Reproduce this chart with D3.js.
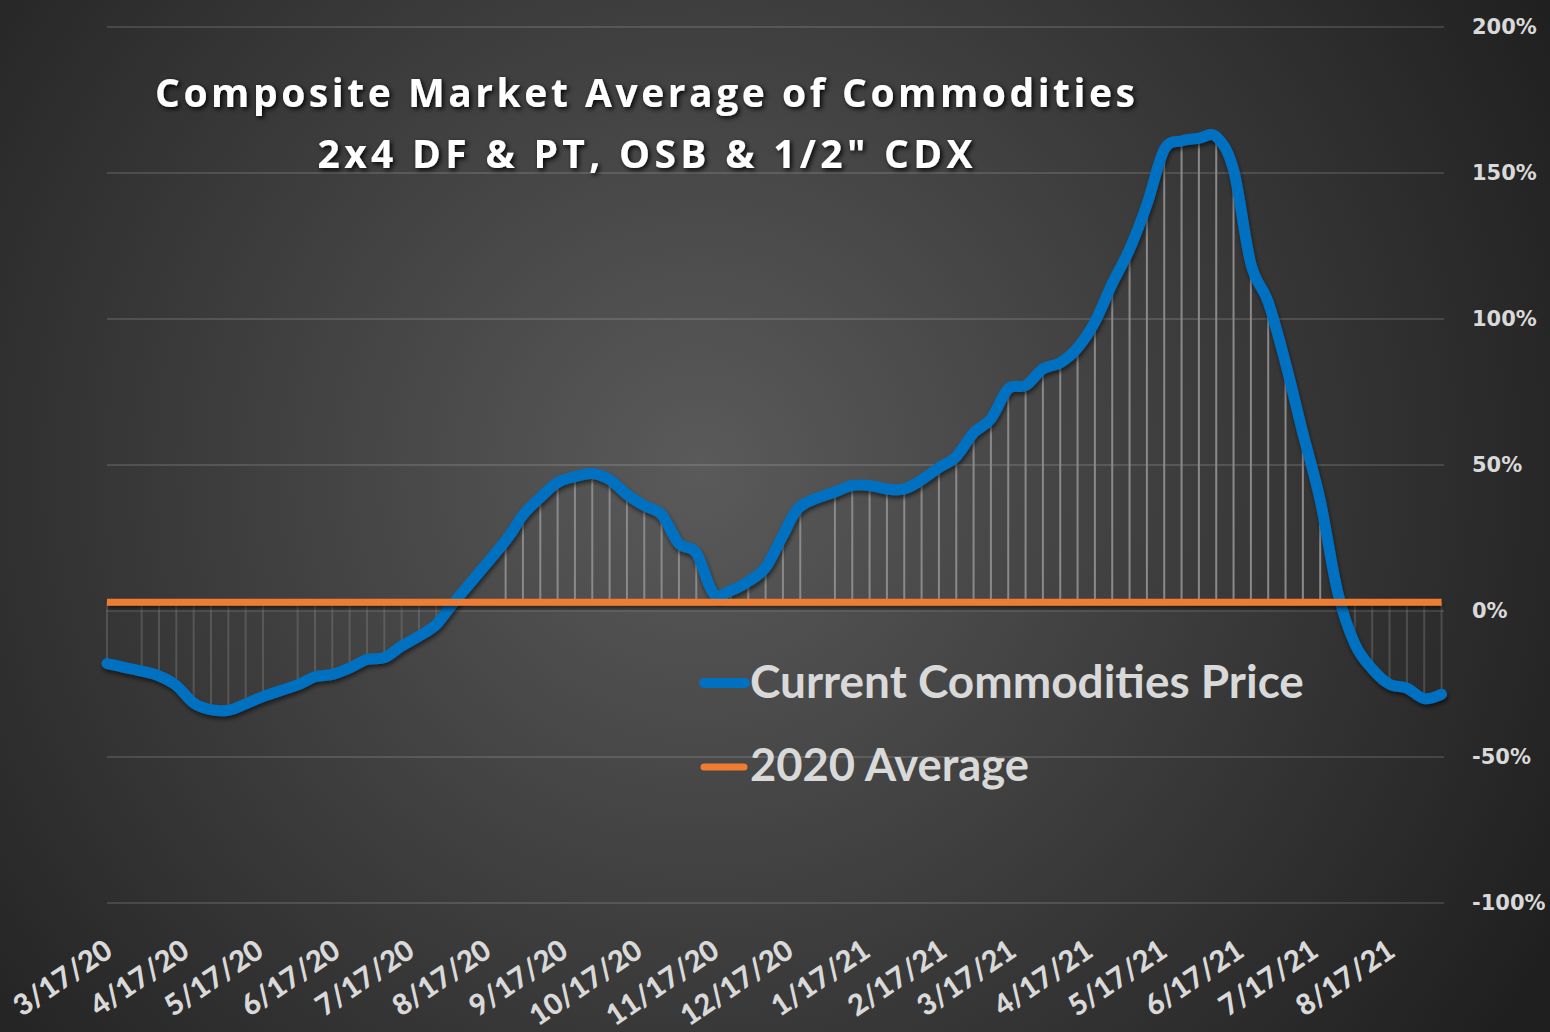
<!DOCTYPE html>
<html>
<head>
<meta charset="utf-8">
<script src="https://cdn.jsdelivr.net/npm/d3@7"></script>
<style>
  html, body { margin: 0; padding: 0; background: #2a2a2a; }
  svg { display: block; }
</style>
</head>
<body>
<svg id="chart" width="1550" height="1032"></svg>
<script>
// ---------------- DATA ----------------
const titleLines = ["Composite Market Average of Commodities", "2x4 DF & PT, OSB & 1/2\" CDX"];
const seriesNames = ["Current Commodities Price", "2020 Average"];

const pointDates = [
  "2020-03-17","2020-03-31","2020-04-07","2020-04-14","2020-04-21","2020-04-28",
  "2020-05-05","2020-05-12","2020-05-19","2020-06-02","2020-06-09","2020-06-16",
  "2020-06-23","2020-06-30","2020-07-07","2020-07-14","2020-07-21","2020-07-28",
  "2020-08-04","2020-08-25","2020-09-01","2020-09-08","2020-09-15","2020-09-22",
  "2020-09-29","2020-10-06","2020-10-13","2020-10-20","2020-10-27","2020-11-03",
  "2020-11-10","2020-11-17","2020-11-24","2020-12-01","2020-12-08","2020-12-15",
  "2020-12-22","2021-01-05","2021-01-12","2021-01-19","2021-01-26","2021-02-02",
  "2021-02-09","2021-02-16","2021-02-23","2021-03-02","2021-03-09","2021-03-16",
  "2021-03-23","2021-03-30","2021-04-06","2021-04-13","2021-04-20","2021-04-27",
  "2021-05-04","2021-05-11","2021-05-18","2021-05-25","2021-06-01","2021-06-08",
  "2021-06-15","2021-06-22","2021-06-29","2021-07-06","2021-07-13","2021-07-20",
  "2021-07-27","2021-08-03","2021-08-10","2021-08-17","2021-08-24","2021-08-31",
  "2021-09-07"
];

// Current Commodities Price, % vs 2020 average baseline
const priceValues = [
  -18.0, -20.6, -22.2, -25.5, -31.5, -33.8,
  -34.0, -31.8, -29.3, -25.3, -22.5, -21.7,
  -19.5, -16.6, -16.0, -12.0,  -8.6,  -4.6,
    2.8,  24.1,  32.9,  38.9,  44.0,  46.0,
   47.1,  45.0,  39.9,  36.1,  33.0,  23.1,
   19.9,   6.0,   7.0,  10.1,  14.9,  25.9,
   35.8,  40.8,  43.0,  43.0,  41.8,  41.8,
   44.9,  49.1,  52.9,  61.0,  65.8,  76.1,
   77.2,  82.9,  85.0,  90.1,  99.0, 112.1,
  123.9, 139.2, 158.0, 161.0, 161.9, 162.5,
  151.1, 118.9, 105.8,  84.9,  60.9,  37.9,
    6.7, -11.3, -19.8, -25.1, -26.4, -30.0,
  -28.5
];

const averageValue = 3.0;   // 2020 Average (constant series)

const axisStartDate = "2020-03-17";
const axisEndDate   = "2021-09-08";
const xTickLabels = [
  "3/17/20","4/17/20","5/17/20","6/17/20","7/17/20","8/17/20","9/17/20",
  "10/17/20","11/17/20","12/17/20","1/17/21","2/17/21","3/17/21","4/17/21",
  "5/17/21","6/17/21","7/17/21","8/17/21"
];
const yTickValues = [200, 150, 100, 50, 0, -50, -100];

// ---------------- LAYOUT ----------------
const W = 1550, H = 1032;
const plot = { left: 107, right: 1444, top: 27, bottom: 903 };
const colors = {
  price: "#0070c0",
  average: "#ed7d31",
  text: "#d9d9d9",
  grid: "rgba(255,255,255,0.13)",
  drop: "#8a8a8a"
};

const parseISO = d3.timeParse("%Y-%m-%d");
const parseLabel = d3.timeParse("%m/%d/%y");

const data = pointDates.map((d, i) => ({ date: parseISO(d), value: priceValues[i] }));

const x = d3.scaleTime()
  .domain([parseISO(axisStartDate), parseISO(axisEndDate)])
  .range([plot.left, plot.right]);
const y = d3.scaleLinear()
  .domain([-100, 200])
  .range([plot.bottom, plot.top]);

const svg = d3.select("#chart");
const defs = svg.append("defs");

// background radial gradient
const grad = defs.append("radialGradient")
  .attr("id", "bg").attr("gradientUnits", "userSpaceOnUse")
  .attr("cx", 700).attr("cy", 470).attr("r", 980);
grad.append("stop").attr("offset", "0%").attr("stop-color", "#5a5a5a");
grad.append("stop").attr("offset", "100%").attr("stop-color", "#1f1f1f");

const sh = defs.append("filter").attr("id", "lineShadow")
  .attr("filterUnits", "userSpaceOnUse")
  .attr("x", 0).attr("y", 0).attr("width", W).attr("height", H);
sh.append("feDropShadow").attr("dx", 1).attr("dy", 3).attr("stdDeviation", 2)
  .attr("flood-color", "#000").attr("flood-opacity", 0.55);

const tsh = defs.append("filter").attr("id", "titleShadow")
  .attr("filterUnits", "userSpaceOnUse")
  .attr("x", 0).attr("y", 0).attr("width", W).attr("height", H);
tsh.append("feDropShadow").attr("dx", 2).attr("dy", 2).attr("stdDeviation", 2.5)
  .attr("flood-color", "#000").attr("flood-opacity", 0.95);

svg.append("rect").attr("width", W).attr("height", H).attr("fill", "url(#bg)");

// gridlines
svg.append("g").selectAll("line").data(yTickValues).join("line")
  .attr("x1", plot.left).attr("x2", plot.right)
  .attr("y1", d => y(d)).attr("y2", d => y(d))
  .attr("stroke", colors.grid).attr("stroke-width", 2);

// high-low (drop) lines between the two series
svg.append("g").selectAll("line").data(data).join("line")
  .attr("x1", d => x(d.date)).attr("x2", d => x(d.date))
  .attr("y1", y(averageValue)).attr("y2", d => y(d.value))
  .attr("stroke", colors.drop).attr("stroke-width", 2)
  .attr("stroke-opacity", d => d.value >= averageValue ? 1 : 0.35);

// current price line
const line = d3.line().x(d => x(d.date)).y(d => y(d.value)).curve(d3.curveCardinal.tension(0));
svg.append("path").datum(data)
  .attr("d", line)
  .attr("fill", "none").attr("stroke", colors.price)
  .attr("stroke-width", 11).attr("stroke-linejoin", "round").attr("stroke-linecap", "round")
  .attr("filter", "url(#lineShadow)");

// 2020 average line
svg.append("path").datum(data)
  .attr("d", d3.line().x(d => x(d.date)).y(() => y(averageValue)))
  .attr("fill", "none").attr("stroke", colors.average)
  .attr("stroke-width", 7).attr("filter", "url(#lineShadow)");

// x axis
const xAxis = d3.axisBottom(x)
  .tickValues(xTickLabels.map(parseLabel))
  .tickFormat(d3.timeFormat("%-m/%-d/%y"))
  .tickSize(0).tickPadding(0);
const gx = svg.append("g").attr("transform", `translate(0,${plot.bottom})`).call(xAxis);
gx.select(".domain").remove();
gx.selectAll("text")
  .attr("fill", colors.text)
  .style("font-family", "Lato, 'Open Sans', sans-serif")
  .style("font-weight", "900")
  .style("font-size", "29px")
  .attr("text-anchor", "end")
  .attr("y", 0).attr("dy", 0)
  .attr("transform", "translate(7,52) rotate(-34)");

// y axis (right)
const yAxis = d3.axisRight(y).tickValues(yTickValues).tickFormat(d => d + "%").tickSize(0).tickPadding(0);
const gy = svg.append("g").attr("transform", "translate(1472,0)").call(yAxis);
gy.select(".domain").remove();
gy.selectAll("text")
  .attr("fill", colors.text)
  .style("font-family", "'DejaVu Sans', Verdana, sans-serif")
  .style("font-weight", "700")
  .style("font-size", "21px");

// title
const title = svg.append("g").attr("filter", "url(#titleShadow)");
const titleSpecs = [
  { text: titleLines[0], y: 107, width: 980 },
  { text: titleLines[1], y: 168, width: 655 }
];
titleSpecs.forEach(s => {
  title.append("text")
    .attr("x", 645).attr("y", s.y)
    .attr("text-anchor", "middle")
    .attr("fill", "#ffffff")
    .style("font-family", "'Open Sans', Lato, sans-serif")
    .style("font-weight", "700")
    .style("font-size", "39px")
    .attr("textLength", s.width)
    .attr("lengthAdjust", "spacing")
    .text(s.text);
});

// legend
const legend = svg.append("g");
const legendItems = [
  { name: seriesNames[0], color: colors.price, width: 10, x1: 704, x2: 745, ly: 683, ty: 698, tw: 554 },
  { name: seriesNames[1], color: colors.average, width: 7, x1: 704, x2: 744, ly: 767, ty: 781, tw: 279 }
];
legendItems.forEach(it => {
  legend.append("line")
    .attr("x1", it.x1).attr("x2", it.x2).attr("y1", it.ly).attr("y2", it.ly)
    .attr("stroke", it.color).attr("stroke-width", it.width).attr("stroke-linecap", "round");
  const t = legend.append("text")
    .attr("x", 750).attr("y", it.ty)
    .attr("fill", colors.text)
    .style("font-family", "Lato, 'Open Sans', sans-serif")
    .style("font-weight", "700")
    .style("font-size", "42px")
    .text(it.name);
  const w = t.node().getComputedTextLength();
  if (w > 0) t.style("font-size", (42 * it.tw / w).toFixed(2) + "px");
});
</script>
</body>
</html>
